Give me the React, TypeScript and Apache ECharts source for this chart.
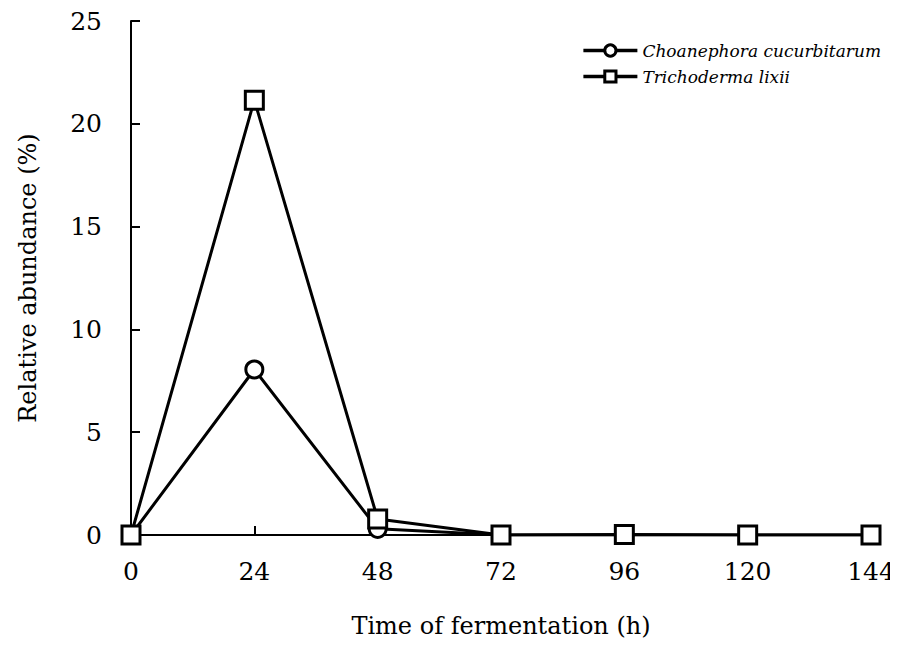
import React, { useEffect, useRef } from "react";
import * as echarts from "echarts";

const hours = [0, 24, 48, 72, 96, 120, 144];
const choanephora = [0, 8.05, 0.3, 0, 0, 0, 0];
const trichoderma = [0, 21.15, 0.78, 0, 0.02, 0, 0];
const seriesNames = ["Choanephora cucurbitarum", "Trichoderma lixii"];

const FONT = "DejaVu Serif";

export default function App() {
  const ref = useRef<HTMLDivElement>(null);
  useEffect(() => {
    const chart = echarts.init(ref.current!, null, { renderer: "svg" });
    const mk = (vals: number[]) => hours.map((h, i) => [h, vals[i]]);
    chart.setOption({
      animation: false,
      backgroundColor: "#ffffff",
      textStyle: { fontFamily: FONT },
      grid: { left: 131, right: 27, top: 21, bottom: 115 },
      legend: {
        right: 12,
        top: 37,
        orient: "vertical",
        itemWidth: 54,
        itemHeight: 14,
        itemGap: 9,
        itemStyle: { borderWidth: 3 },
        lineStyle: { width: 3.5 },
        textStyle: { fontFamily: FONT, fontStyle: "italic", fontSize: 17, color: "#000" },
        data: seriesNames,
      },
      xAxis: {
        type: "value",
        min: 0,
        max: 144,
        interval: 24,
        name: "Time of fermentation (h)",
        nameLocation: "middle",
        nameGap: 79,
        nameTextStyle: { fontFamily: FONT, fontSize: 24, color: "#000" },
        axisLine: { lineStyle: { color: "#000", width: 2 } },
        axisTick: { inside: true, length: 9, lineStyle: { color: "#000", width: 2 } },
        axisLabel: { fontFamily: FONT, fontSize: 25, color: "#000", margin: 24 },
        splitLine: { show: false },
      },
      yAxis: {
        type: "value",
        min: 0,
        max: 25,
        interval: 5,
        name: "Relative abundance (%)",
        nameLocation: "middle",
        nameGap: 91,
        nameTextStyle: { fontFamily: FONT, fontSize: 24, color: "#000" },
        axisLine: { show: true, lineStyle: { color: "#000", width: 2 } },
        axisTick: { show: true, inside: true, length: 9, lineStyle: { color: "#000", width: 2 } },
        axisLabel: { fontFamily: FONT, fontSize: 25, color: "#000", margin: 29 },
        splitLine: { show: false },
      },
      series: [
        {
          name: seriesNames[0],
          type: "line",
          data: mk(choanephora),
          symbol: "circle",
          symbolSize: 17,
          lineStyle: { color: "#000", width: 3 },
          itemStyle: { color: "#fff", borderColor: "#000", borderWidth: 3 },
          z: 2,
        },
        {
          name: seriesNames[1],
          type: "line",
          data: mk(trichoderma),
          symbol: "rect",
          symbolSize: 18,
          lineStyle: { color: "#000", width: 3 },
          itemStyle: { color: "#fff", borderColor: "#000", borderWidth: 3 },
          z: 3,
        },
      ],
    });
    return () => chart.dispose();
  }, []);
  return <div ref={ref} style={{ width: 898, height: 650, margin: -8 }} />;
}
